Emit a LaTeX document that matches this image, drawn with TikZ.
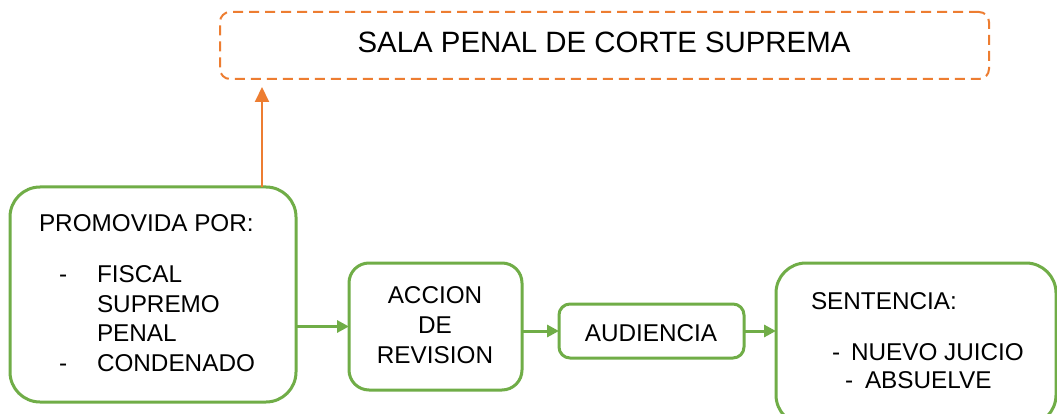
\documentclass[tikz,border=0pt]{standalone}
\usepackage{fontspec}
\setmainfont{Liberation Sans}
\usetikzlibrary{arrows.meta}
\definecolor{ogreen}{HTML}{70AD47}
\definecolor{oorange}{HTML}{ED7D31}
\tikzset{
  gbox/.style={draw=ogreen, line width=3pt, inner sep=0pt, outer sep=0pt, anchor=north west},
  obox/.style={draw=oorange, line width=2pt, dash pattern=on 10pt off 6pt, rounded corners=10pt, inner sep=0pt, outer sep=0pt, anchor=north west},
  txt/.style={inner sep=0pt, outer sep=0pt, anchor=base west, font=\fontsize{24.3}{29}\selectfont},
  ctxt/.style={inner sep=0pt, outer sep=0pt, anchor=base, font=\fontsize{24.3}{29}\selectfont},
  garrow/.style={draw=ogreen, line width=3pt, -{Triangle[length=12pt,width=12pt]}},
  oarrow/.style={draw=oorange, line width=2pt, -{Triangle[length=15pt,width=14pt]}}
}
\begin{document}
\begin{tikzpicture}[x=1pt,y=-1pt]
\clip (0,0) rectangle (1057,414);
\fill[white] (0,0) rectangle (1057,414);
% boxes
\node[obox, minimum width=769pt, minimum height=67pt] (sala) at (220,12) {};
\node[gbox, rounded corners=30pt, minimum width=286pt, minimum height=215pt] (prom) at (10,187) {};
\node[gbox, rounded corners=20pt, minimum width=173pt, minimum height=127pt] (accion) at (349,263) {};
\node[gbox, rounded corners=11pt, minimum width=185pt, minimum height=54pt] (aud) at (559,304) {};
\node[gbox, rounded corners=30pt, minimum width=280pt, minimum height=162pt] (sent) at (776,263) {};
% texts
\node[inner sep=0pt, outer sep=0pt, anchor=base, font=\fontsize{29.4}{35}\selectfont] (salat) at (604,53) {SALA PENAL DE CORTE SUPREMA};
\node[txt] (pt) at (39,231) {PROMOVIDA POR:};
\node[txt] (pd1) at (59,282) {-};
\node[txt] (p1) at (97,282) {FISCAL};
\node[txt] (p2) at (97,312) {SUPREMO};
\node[txt] (p3) at (97,341) {PENAL};
\node[txt] (pd2) at (59,371) {-};
\node[txt] (p4) at (97,371) {CONDENADO};
\node[ctxt] (a1) at (435,303) {ACCION};
\node[ctxt] (a2) at (435,333) {DE};
\node[ctxt] (a3) at (435,363) {REVISION};
\node[ctxt] (audt) at (651,341) {AUDIENCIA};
\node[txt] (st) at (811,309) {SENTENCIA:};
\node[txt] (sd1) at (832,360) {-};
\node[txt] (s1) at (851,360) {NUEVO JUICIO};
\node[txt] (sd2) at (845,388) {-};
\node[txt] (s2) at (865,388) {ABSUELVE};
% connectors
\coordinate (ostart) at ([xshift=109pt]prom.north);
\draw[oarrow, shorten >=8pt] (ostart) -- (ostart |- sala.south);
\draw[garrow] (prom.east |- accion.west) -- (accion.west);
\draw[garrow] (accion.east |- aud.west) -- (aud.west);
\draw[garrow] (aud.east) -- (aud.east -| sent.west);
\end{tikzpicture}
\end{document}
